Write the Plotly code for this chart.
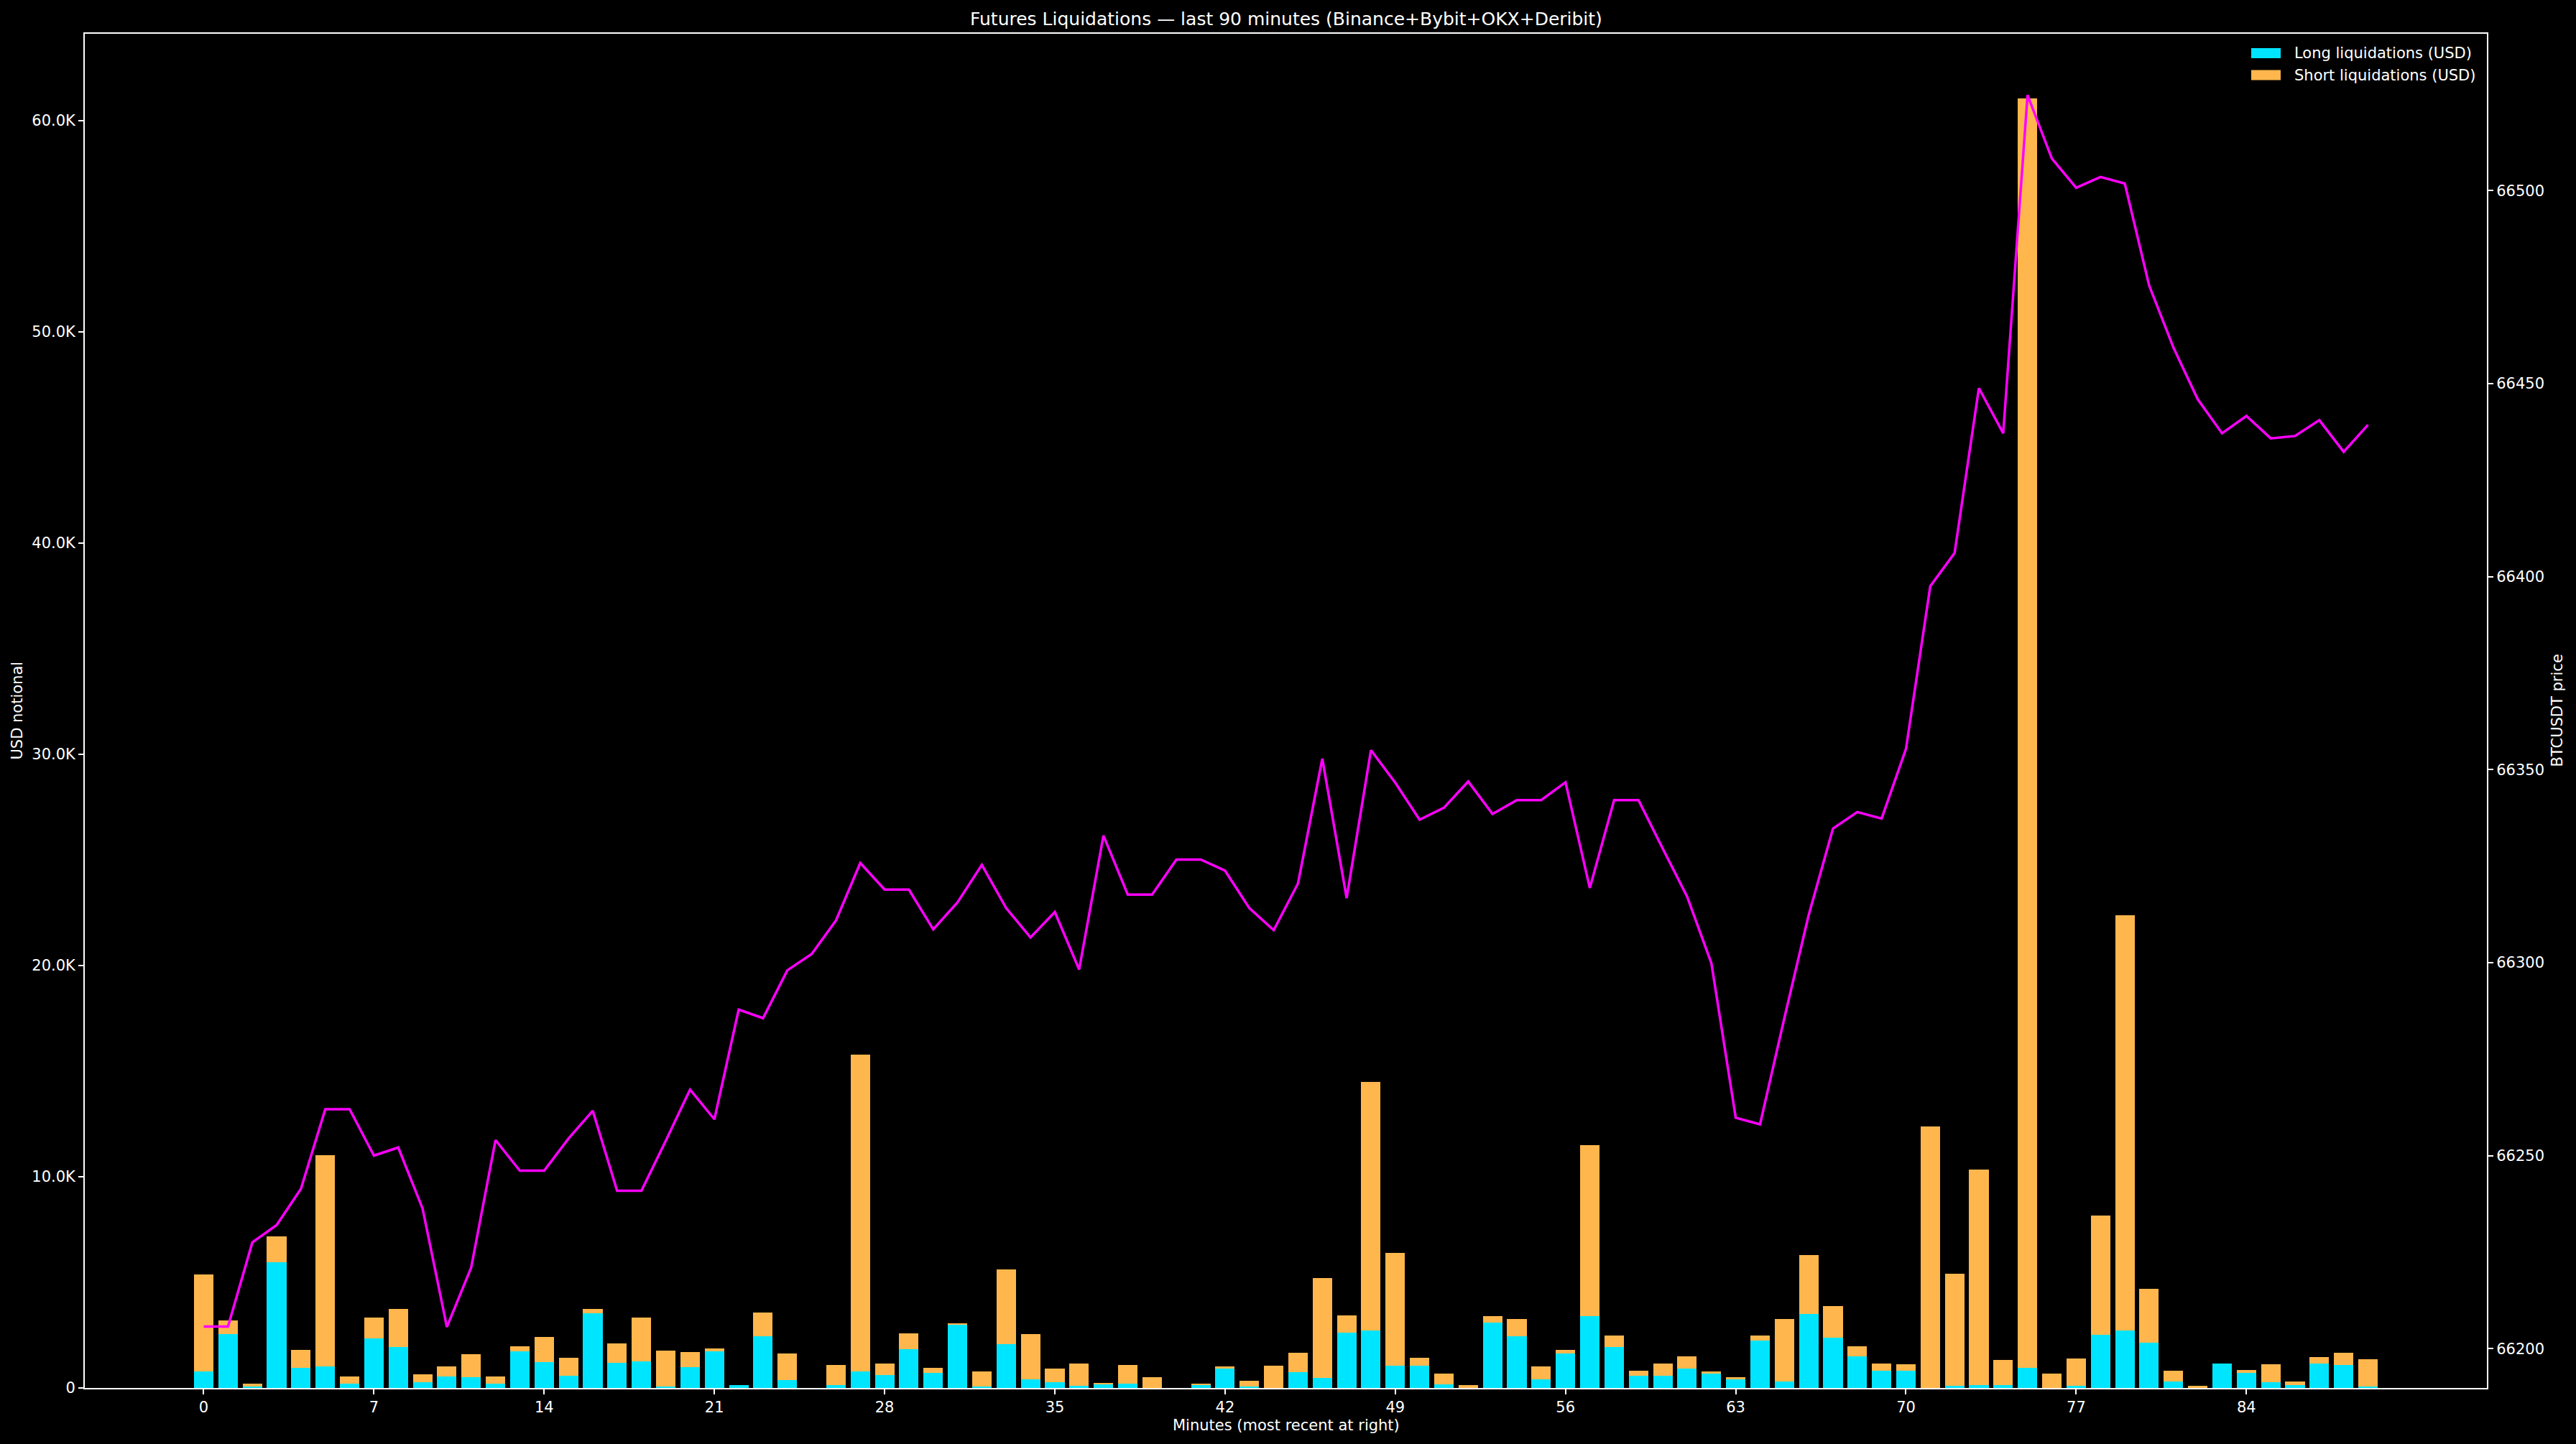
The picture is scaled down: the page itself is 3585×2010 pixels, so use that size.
import plotly.graph_objects as go

minutes = list(range(90))

long_usd = [770, 2540, 80, 5940, 940, 1010, 190, 2340, 1930, 260,
            530, 500, 190, 1720, 1210, 570, 3530, 1180, 1250, 60,
            980, 1720, 120, 2440, 360, 0, 120, 770, 600, 1830,
            700, 3020, 60, 2060, 400, 260, 90, 160, 190, 0,
            0, 120, 910, 60, 0, 740, 460, 2610, 2710, 1040,
            1040, 160, 0, 3080, 2440, 400, 1620, 3390, 1930, 570,
            570, 910, 670, 400, 2230, 290, 3490, 2370, 1490, 800,
            800, 0, 90, 120, 120, 940, 0, 90, 2510, 2710,
            2130, 290, 0, 1150, 700, 260, 120, 1150, 1080, 60]

short_usd = [4590, 650, 110, 1230, 850, 10000, 340, 980, 1800, 370,
             480, 1090, 340, 240, 1190, 850, 200, 920, 2070, 1700,
             710, 140, 0, 1120, 1260, 0, 960, 15010, 550, 740,
             240, 30, 710, 3540, 2140, 650, 1060, 70, 890, 500,
             0, 70, 100, 270, 1040, 920, 4730, 810, 11770, 5340,
             380, 510, 120, 310, 810, 610, 170, 8100, 540, 230,
             580, 580, 100, 100, 240, 2960, 2790, 1500, 470, 350,
             310, 12370, 5310, 10210, 1200, 60110, 670, 1290, 5640, 19650,
             2550, 510, 90, 0, 140, 850, 170, 300, 580, 1290]

btc_price = [66205.7, 66205.7, 66227.5, 66232.0, 66241.4, 66262.0, 66262.0, 66250.0, 66252.1, 66236.3,
             66205.6, 66221.0, 66254.0, 66246.1, 66246.1, 66254.4, 66261.6, 66240.9, 66240.9, 66253.8,
             66267.1, 66259.4, 66287.8, 66285.6, 66298.0, 66302.2, 66310.9, 66325.8, 66318.9, 66318.9,
             66308.6, 66315.6, 66325.3, 66314.1, 66306.5, 66313.1, 66298.2, 66332.9, 66317.6, 66317.6,
             66326.7, 66326.7, 66323.8, 66314.1, 66308.4, 66320.5, 66352.8, 66316.7, 66355.0, 66346.6,
             66337.0, 66340.1, 66346.9, 66338.5, 66342.1, 66342.1, 66346.7, 66319.3, 66342.1, 66342.1,
             66329.5, 66317.1, 66299.8, 66259.8, 66258.1, 66285.6, 66312.3, 66334.7, 66339.0, 66337.3,
             66355.3, 66397.5, 66406.1, 66448.8, 66437.1, 66524.7, 66508.3, 66500.7, 66503.5, 66501.8,
             66475.4, 66459.3, 66445.9, 66437.1, 66441.6, 66435.8, 66436.4, 66440.5, 66432.3, 66439.3]

x_ticks = list(range(0, 90, 7))
usd_ticks = [0, 10000, 20000, 30000, 40000, 50000, 60000]
usd_tick_labels = ["0", "10.0K", "20.0K", "30.0K", "40.0K", "50.0K", "60.0K"]
price_ticks = [66200, 66250, 66300, 66350, 66400, 66450, 66500]
legend_labels = ["Long liquidations (USD)", "Short liquidations (USD)"]

CYAN = "#00e5ff"
ORANGE = "#ffb74d"
MAGENTA = "#ff00ff"
FONT = "DejaVu Sans"

W, H = 3585, 2010
ML, MR, MT, MB = 118, 124, 47, 78
PW, PH = W - ML - MR, H - MT - MB

fig = go.Figure()
fig.add_trace(go.Bar(x=minutes, y=long_usd, width=0.8, name=legend_labels[0], showlegend=False,
                     marker=dict(color=CYAN, line=dict(width=0))))
fig.add_trace(go.Bar(x=minutes, y=short_usd, width=0.8, name=legend_labels[1], showlegend=False,
                     marker=dict(color=ORANGE, line=dict(width=0))))
fig.add_trace(go.Scatter(x=minutes, y=btc_price, mode="lines", yaxis="y2", showlegend=False,
                         line=dict(color=MAGENTA, width=3.5)))

axis_common = dict(showgrid=False, zeroline=False, showline=True, linecolor="white", linewidth=2,
                   ticks="outside", ticklen=7, tickwidth=1.5, tickcolor="white",
                   tickfont=dict(family=FONT, size=21, color="white"))


def px_x(p):
    return (p - ML) / PW


def px_y(p):
    return 1 - (p - MT) / PH


# manual legend (matplotlib-style wide patches)
shapes = []
annotations = []
for k, (lab, col) in enumerate(zip(legend_labels, [CYAN, ORANGE])):
    cy = 74 + k * 30.5
    shapes.append(dict(type="rect", xref="paper", yref="paper",
                       x0=px_x(3133), x1=px_x(3174), y0=px_y(cy + 7), y1=px_y(cy - 7),
                       fillcolor=col, line=dict(width=0)))
    annotations.append(dict(text=lab, xref="paper", yref="paper", x=px_x(3191), y=px_y(cy),
                            xanchor="left", yanchor="middle", showarrow=False,
                            font=dict(family=FONT, size=21, color="white")))

annotations += [
    dict(text="Futures Liquidations — last 90 minutes (Binance+Bybit+OKX+Deribit)",
         xref="paper", yref="paper", x=0.5, y=1, yshift=4, yanchor="bottom", showarrow=False,
         font=dict(family=FONT, size=25, color="white")),
    dict(text="Minutes (most recent at right)", xref="paper", yref="paper", x=0.5, y=0,
         yshift=-38, yanchor="top", showarrow=False,
         font=dict(family=FONT, size=21, color="white")),
    dict(text="USD notional", xref="paper", yref="paper", x=0, xshift=-95, xanchor="center", y=0.5,
         textangle=-90, showarrow=False, font=dict(family=FONT, size=21, color="white")),
    dict(text="BTCUSDT price", xref="paper", yref="paper", x=1, xshift=97, xanchor="center", y=0.5,
         textangle=-90, showarrow=False, font=dict(family=FONT, size=21, color="white")),
]

fig.update_layout(
    width=W, height=H,
    paper_bgcolor="black", plot_bgcolor="black",
    barmode="stack", bargap=0,
    margin=dict(l=ML, r=MR, t=MT, b=MB),
    font=dict(family=FONT, color="white"),
    xaxis=dict(range=[-4.89, 93.89], tickvals=x_ticks, mirror=True, **axis_common),
    yaxis=dict(range=[0, 64100], tickvals=usd_ticks, ticktext=usd_tick_labels, **axis_common),
    yaxis2=dict(range=[66189.8, 66540.6], tickvals=price_ticks, tickformat="d", overlaying="y",
                side="right", **axis_common),
    showlegend=False,
    shapes=shapes,
    annotations=annotations,
)

fig.write_html("out.html", config={"displayModeBar": False},
               post_script="document.body.style.margin='0';document.body.style.padding='0';")
